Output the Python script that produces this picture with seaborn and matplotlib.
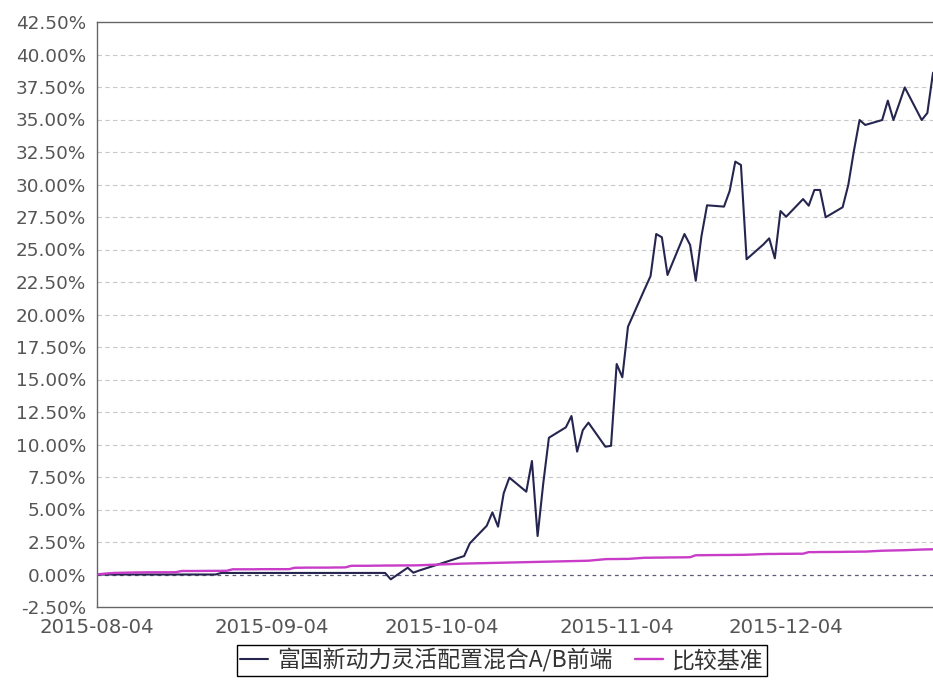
import matplotlib
matplotlib.use("Agg")
import matplotlib.pyplot as plt
from matplotlib.lines import Line2D
import seaborn as sns
import pandas as pd

# ---------------- data ----------------
dates = [
    "2015-08-04", "2015-08-05", "2015-08-06", "2015-08-07", "2015-08-10", "2015-08-11",
    "2015-08-12", "2015-08-13", "2015-08-14", "2015-08-17", "2015-08-18", "2015-08-19",
    "2015-08-20", "2015-08-21", "2015-08-24", "2015-08-25", "2015-08-26", "2015-08-27",
    "2015-08-28", "2015-08-31", "2015-09-01", "2015-09-02", "2015-09-07", "2015-09-08",
    "2015-09-09", "2015-09-10", "2015-09-11", "2015-09-14", "2015-09-15", "2015-09-16",
    "2015-09-17", "2015-09-18", "2015-09-21", "2015-09-22", "2015-09-23", "2015-09-24",
    "2015-09-25", "2015-09-28", "2015-09-29", "2015-09-30", "2015-10-08", "2015-10-09",
    "2015-10-12", "2015-10-13", "2015-10-14", "2015-10-15", "2015-10-16", "2015-10-19",
    "2015-10-20", "2015-10-21", "2015-10-22", "2015-10-23", "2015-10-26", "2015-10-27",
    "2015-10-28", "2015-10-29", "2015-10-30", "2015-11-02", "2015-11-03", "2015-11-04",
    "2015-11-05", "2015-11-06", "2015-11-09", "2015-11-10", "2015-11-11", "2015-11-12",
    "2015-11-13", "2015-11-16", "2015-11-17", "2015-11-18", "2015-11-19", "2015-11-20",
    "2015-11-23", "2015-11-24", "2015-11-25", "2015-11-26", "2015-11-27", "2015-11-30",
    "2015-12-01", "2015-12-02", "2015-12-03", "2015-12-04", "2015-12-07", "2015-12-08",
    "2015-12-09", "2015-12-10", "2015-12-11", "2015-12-14", "2015-12-15", "2015-12-16",
    "2015-12-17", "2015-12-18", "2015-12-21", "2015-12-22", "2015-12-23", "2015-12-24",
    "2015-12-25", "2015-12-28", "2015-12-29", "2015-12-30",
]

fund = [
    0.00, 0.00, 0.00, 0.00, 0.00, 0.00,
    0.00, 0.00, 0.00, 0.00, 0.00, 0.00,
    0.00, 0.00, 0.00, 0.00, 0.12, 0.12,
    0.12, 0.12, 0.12, 0.12, 0.12, 0.12,
    0.12, 0.12, 0.12, 0.12, 0.12, 0.12,
    0.12, 0.12, 0.12, 0.12, 0.12, 0.12,
    -0.37, 0.52, 0.14, 0.30, 1.42, 2.40,
    3.75, 4.78, 3.68, 6.25, 7.45, 6.37,
    8.73, 2.96, 7.00, 10.52, 11.32, 12.19,
    9.45, 11.10, 11.68, 9.83, 9.90, 16.19,
    15.17, 19.06, 22.00, 22.96, 26.19, 25.94,
    23.04, 26.19, 25.35, 22.60, 26.00, 28.40,
    28.30, 29.50, 31.76, 31.50, 24.25, 25.40,
    25.86, 24.32, 27.96, 27.52, 28.88, 28.37,
    29.58, 29.58, 27.48, 28.25, 29.96, 32.60,
    34.96, 34.58, 34.96, 36.45, 34.96, 36.20,
    37.47, 34.96, 35.50, 38.60,
]

bench = [
    0.00, 0.05, 0.09, 0.12, 0.15, 0.16,
    0.16, 0.17, 0.17, 0.17, 0.18, 0.27,
    0.27, 0.27, 0.28, 0.28, 0.28, 0.29,
    0.40, 0.40, 0.40, 0.41, 0.41, 0.52,
    0.52, 0.53, 0.53, 0.53, 0.54, 0.54,
    0.55, 0.67, 0.67, 0.68, 0.68, 0.69,
    0.69, 0.70, 0.70, 0.71, 0.84, 0.85,
    0.88, 0.89, 0.90, 0.91, 0.92, 0.95,
    0.96, 0.97, 0.98, 0.99, 1.02, 1.03,
    1.04, 1.05, 1.06, 1.18, 1.19, 1.19,
    1.20, 1.20, 1.29, 1.29, 1.30, 1.30,
    1.31, 1.32, 1.33, 1.48, 1.48, 1.49,
    1.50, 1.50, 1.51, 1.51, 1.52, 1.57,
    1.58, 1.58, 1.59, 1.59, 1.60, 1.72,
    1.72, 1.73, 1.73, 1.74, 1.75, 1.75,
    1.76, 1.76, 1.83, 1.84, 1.85, 1.86,
    1.87, 1.92, 1.93, 1.94,
]

fund_name = "富国新动力灵活配置混合A/B前端"
bench_name = "比较基准"

y_ticks = [-2.5, 0.0, 2.5, 5.0, 7.5, 10.0, 12.5, 15.0, 17.5, 20.0, 22.5,
           25.0, 27.5, 30.0, 32.5, 35.0, 37.5, 40.0, 42.5]
x_tick_labels = ["2015-08-04", "2015-09-04", "2015-10-04", "2015-11-04", "2015-12-04"]
x_start, x_end = "2015-08-04", "2015-12-30"

# ---------------- style ----------------
sns.set_style("white")
plt.rcParams['font.family'] = ['DejaVu Sans']

W, H = 933, 682
fig = plt.figure(figsize=(W / 100, H / 100), dpi=100)
fig.patch.set_facecolor("white")
ax = fig.add_axes([97 / W, 1 - 607 / H, (933 - 97) / W, (607 - 22) / H])

df = pd.DataFrame({"date": pd.to_datetime(dates), "fund": fund, "bench": bench})

fund_color = "#25254f"
bench_color = "#c83cc8"

sns.lineplot(data=df, x="date", y="fund", ax=ax, color=fund_color, lw=1.5, zorder=3)
sns.lineplot(data=df, x="date", y="bench", ax=ax, color=bench_color, lw=1.7, zorder=4)

ax.set_xlim(pd.Timestamp(x_start), pd.Timestamp(x_end))
ax.set_ylim(y_ticks[0], y_ticks[-1])
ax.set_yticks(y_ticks)
ax.set_yticklabels([f"{v:.2f}%" for v in y_ticks])
ax.set_xticks(pd.to_datetime(x_tick_labels))
ax.set_xticklabels(x_tick_labels)
ax.set_xlabel("")
ax.set_ylabel("")

# grid
for v in y_ticks[1:-1]:
    if v == 0:
        ax.axhline(v, color="#5a5a7a", lw=0.9, ls=(0, (3, 3)), zorder=1)
    else:
        ax.axhline(v, color="#c8c8c8", lw=0.8, ls=(0, (4, 3)), zorder=1)

for s in ["left", "bottom", "top"]:
    ax.spines[s].set_color("#666666")
    ax.spines[s].set_linewidth(1.0)
ax.spines["right"].set_visible(False)

ax.tick_params(axis="y", direction="out", length=4, width=1, color="#666666",
               labelsize=13.2, labelcolor="#555555", pad=4)
ax.tick_params(axis="x", direction="in", length=3, width=1, color="#666666",
               labelsize=14.2, labelcolor="#555555", pad=8)

handles = [Line2D([], [], color=fund_color, lw=1.5),
           Line2D([], [], color=bench_color, lw=1.7)]
leg = fig.legend(handles, [fund_name, bench_name], ncol=2, loc="upper center",
                 bbox_to_anchor=(502 / W, 1 - 645 / H), bbox_transform=fig.transFigure,
                 frameon=True, fancybox=False, framealpha=1, edgecolor="black",
                 borderpad=0.15, handlelength=1.2, handletextpad=0.4,
                 columnspacing=1.0, borderaxespad=0,
                 prop={"family": ["Noto Sans CJK SC", "DejaVu Sans"], "size": 16.5})
leg.get_frame().set_linewidth(1.0)
for t in leg.get_texts():
    t.set_color("#333333")

fig.savefig("out.png", dpi=100)
